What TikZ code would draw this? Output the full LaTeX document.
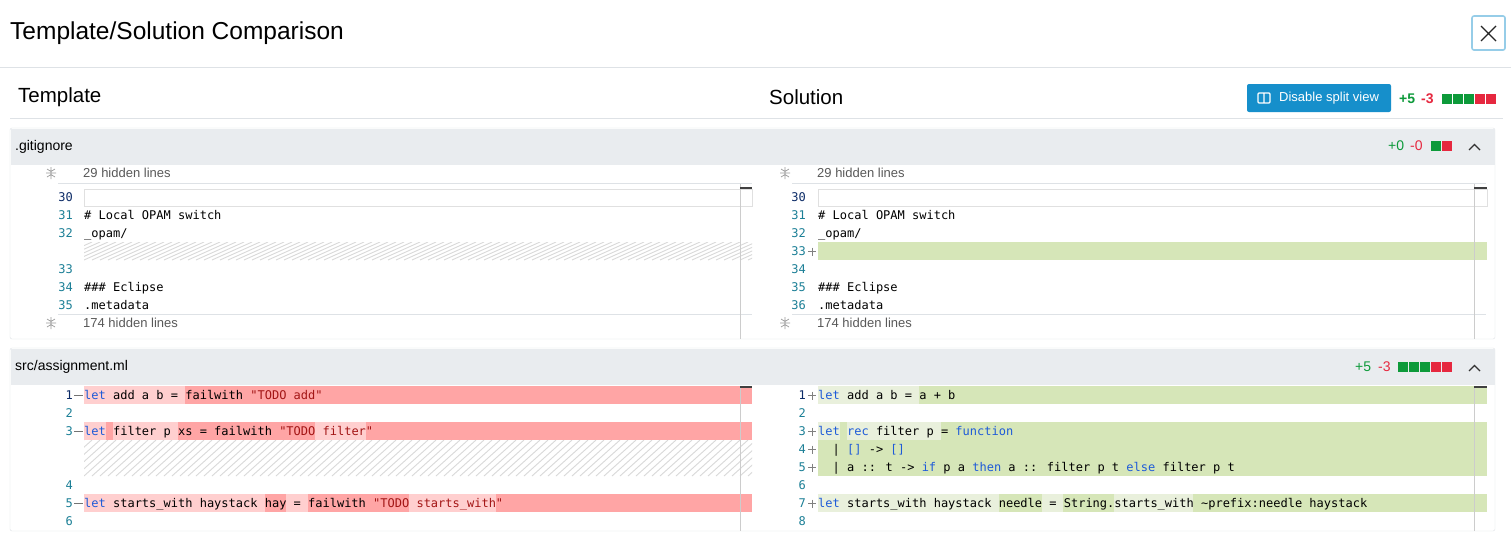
\documentclass[tikz,border=0pt]{standalone}
\usepackage{fontspec}
\setmainfont{Liberation Sans}
\newfontfamily\mono{DejaVu Sans Mono}
\definecolor{redbg}{HTML}{FFA5A5}
\definecolor{redlt}{HTML}{FFCFCF}
\definecolor{grnbg}{HTML}{D6E6B8}
\definecolor{grnlt}{HTML}{E9F0DC}
\definecolor{kw}{HTML}{1E5BD8}
\definecolor{str}{HTML}{A31515}
\definecolor{lnc}{HTML}{1B7F96}
\definecolor{lncur}{HTML}{0B2A66}
\definecolor{hdr}{HTML}{E9ECEF}
\definecolor{brd}{HTML}{DEE2E6}
\definecolor{btn}{HTML}{168FCB}
\definecolor{plus}{HTML}{0D9A3A}
\definecolor{minus}{HTML}{E6283F}
\definecolor{hatch}{HTML}{D9D9D9}
\newcommand\seg[5]{\fill[#1] ({#2+#4*7.22},{#3-9}) rectangle ({#2+#5*7.22},{#3+9});}
\newcommand\code[4]{\node[codetxt] (#1) at (#2,{#3+4.3}) {#4};}
\newcommand\lnum[4]{\node[numtxt] (#1) at (#2,{#3+4.3}) {#4};}
\newcommand\pl[1]{\draw[black!50] (808,{#1+0.5}) -- (816,{#1+0.5}) (812,{#1-3.5}) -- (812,{#1+4.5});}
\newcommand\kw[1]{\textcolor{kw}{#1}}
\newcommand\st[1]{\textcolor{str}{#1}}
\newcommand\hatchbox[4]{\begin{scope}\clip (#1,#2) rectangle (#3,#4);
  \foreach \i in {0,8,...,720}{\draw[hatch,line width=0.9pt] ({#1+\i-40},#4) -- ({#1+\i},#2);}\end{scope}}
\newcommand\unfold[2]{\draw[gray!80,line width=0.7pt] (#1,{#2-6}) -- (#1,{#2+6}) ({#1-4},{#2-4}) -- (#1,{#2-1.5}) -- ({#1+4},{#2-4}) ({#1-4},{#2+4}) -- (#1,{#2+1.5}) -- ({#1+4},{#2+4}) ({#1-5},#2) -- ({#1+5},#2);}
\begin{document}
\begin{tikzpicture}[x=1pt,y=-1pt,
  codetxt/.style={anchor=base west,inner sep=0pt,font=\mono\fontsize{12}{14}\selectfont},
  numtxt/.style={anchor=base east,inner sep=0pt,font=\mono\fontsize{12}{14}\selectfont,text=lnc},
  uitxt/.style={inner sep=0pt,anchor=west}]
\useasboundingbox (0,0) rectangle (1511,550);
\fill[white] (0,0) rectangle (1511,550);
% header
\node[uitxt,font=\fontsize{24.5}{28}\selectfont] (title) at (10,33) {Template/Solution Comparison};
\draw[brd] (0,67.5) -- (1511,67.5);
\draw[rounded corners=2pt,draw=btn!45,line width=1.6pt,fill=white] (1472,16) rectangle (1505,50);
\node (closex) at (1488.5,33) {};
\draw[black!85,line width=1.3pt] (1481,26) -- (1496,41) (1496,26) -- (1481,41);
\node[uitxt,font=\fontsize{20.5}{24}\selectfont] (tpl) at (18,97) {Template};
\node[uitxt,font=\fontsize{20.5}{24}\selectfont] (sol) at (769,97) {Solution};
\fill[btn,rounded corners=2pt] (1247,84) rectangle (1391,112);
\draw[white,line width=1.2pt,rounded corners=1pt] (1258,93) rectangle (1270,103) (1264,93) -- (1264,103);
\node[uitxt,text=white,font=\fontsize{13}{15}\selectfont] (btnt) at (1279,98) {Disable split view};
\node[uitxt,font=\bfseries\fontsize{14}{16}\selectfont,text=plus] (p5) at (1399,99) {+5};
\node[uitxt,font=\bfseries\fontsize{14}{16}\selectfont,text=minus] (m3) at (1421,99) {-3};
\foreach \k/\c in {0/plus,1/plus,2/plus,3/minus,4/minus}{\fill[\c] ({1442+\k*11},94) rectangle ({1452+\k*11},104);}
\draw[brd] (10,118.5) -- (1503,118.5);
% ===== gitignore box =====
\draw[brd,fill=white,rounded corners=2pt] (10,128) rectangle (1495,339);
\fill[hdr] (10.5,128.5) rectangle (1494.5,165);
\node[uitxt,font=\fontsize{14}{16}\selectfont] (f1) at (15,147) {.gitignore};
\node[uitxt,font=\fontsize{14}{16}\selectfont,text=plus] (f1p) at (1388,146) {+0};
\node[uitxt,font=\fontsize{14}{16}\selectfont,text=minus] (f1m) at (1410,146) {-0};
\fill[plus] (1431,141) rectangle (1441,151); \fill[minus] (1442,141) rectangle (1452,151);
\draw[black!80,line width=1.2pt] (1469,150) -- (1474.5,144.5) -- (1480,150);
% hidden rows
\foreach \ox/\ix in {0/51,734/785}{
  \draw[brd] ({\ox+58},183.5) -- ({\ox+752},183.5);
  \draw[brd] ({\ox+58},314.5) -- ({\ox+752},314.5);
  \unfold{\ix}{173} \unfold{\ix}{323}}
\node[uitxt,text=black!65,font=\fontsize{13}{15}\selectfont] (h1) at (83,173) {29 hidden lines};
\node[uitxt,text=black!65,font=\fontsize{13}{15}\selectfont] (h2) at (83,323) {174 hidden lines};
\node[uitxt,text=black!65,font=\fontsize{13}{15}\selectfont] (h3) at (817,173) {29 hidden lines};
\node[uitxt,text=black!65,font=\fontsize{13}{15}\selectfont] (h4) at (817,323) {174 hidden lines};
\draw[black!12,fill=white] (84,189.5) rectangle (752,206);
\draw[black!12,fill=white] (818,189.5) rectangle (1487,206);
\hatchbox{84}{242}{752}{260}
\fill[grnbg] (818,242) rectangle (1487,260);
\draw[black!20] (740,184) -- (740,339) (1474,184) -- (1474,339);
\draw[black!75,line width=1.5pt] (740,188) -- (752,188) (1474,188) -- (1487,188);
% left rows
\node[numtxt,text=lncur] (l30) at (73,201.3) {30};
\lnum{l31}{73}{215}{31} \code{c31}{84}{215}{\# Local OPAM switch}
\lnum{l32}{73}{233}{32} \code{c32}{84}{233}{\_opam/}
\lnum{l33}{73}{269}{33}
\lnum{l34}{73}{287}{34} \code{c34}{84}{287}{\#\#\# Eclipse}
\lnum{l35}{73}{305}{35} \code{c35}{84}{305}{.metadata}
% right rows
\node[numtxt,text=lncur] (r30) at (806,201.3) {30};
\lnum{r31}{806}{215}{31} \code{d31}{818}{215}{\# Local OPAM switch}
\lnum{r32}{806}{233}{32} \code{d32}{818}{233}{\_opam/}
\lnum{r33}{806}{251}{33} \pl{251}
\lnum{r34}{806}{269}{34}
\lnum{r35}{806}{287}{35} \code{d35}{818}{287}{\#\#\# Eclipse}
\lnum{r36}{806}{305}{36} \code{d36}{818}{305}{.metadata}
% ===== assignment box =====
\draw[brd,fill=white,rounded corners=2pt] (10,348) rectangle (1495,531);
\fill[hdr] (10.5,348.5) rectangle (1494.5,385);
\node[uitxt,font=\fontsize{14}{16}\selectfont] (f2) at (15,367) {src/assignment.ml};
\node[uitxt,font=\fontsize{14}{16}\selectfont,text=plus] (f2p) at (1355,367) {+5};
\node[uitxt,font=\fontsize{14}{16}\selectfont,text=minus] (f2m) at (1378,367) {-3};
\foreach \k/\c in {0/plus,1/plus,2/plus,3/minus,4/minus}{\fill[\c] ({1398+\k*11},362) rectangle ({1408+\k*11},372);}
\draw[black!80,line width=1.2pt] (1469,371) -- (1474.5,365.5) -- (1480,371);
% left highlights
\fill[redbg] (84,386) rectangle (752,404);
\seg{redlt}{84}{395}{0}{14}
\fill[redbg] (84,422) rectangle (752,440);
\seg{redlt}{84}{431}{0}{3} \seg{redlt}{84}{431}{4}{13} \seg{redlt}{84}{431}{32}{39}
\hatchbox{84}{440}{752}{476}
\fill[redbg] (84,494) rectangle (752,512);
\seg{redlt}{84}{503}{0}{25} \seg{redlt}{84}{503}{28}{31} \seg{redlt}{84}{503}{45}{57}
% right highlights
\fill[grnbg] (818,386) rectangle (1487,404);
\seg{grnlt}{818}{395}{0}{14}
\fill[grnbg] (818,422) rectangle (1487,476);
\seg{grnlt}{818}{431}{0}{3} \seg{grnlt}{818}{431}{4}{17}
\fill[grnbg] (818,494) rectangle (1487,512);
\seg{grnlt}{818}{503}{0}{25} \seg{grnlt}{818}{503}{31}{34} \seg{grnlt}{818}{503}{41}{52}
\draw[black!20] (740,386) -- (740,531) (1474,386) -- (1474,531);
\draw[black!75,line width=1.5pt] (740,387) -- (752,387) (1474,387) -- (1487,387);
% left code
\node[numtxt,text=lncur] (a1) at (73,399.3) {1};
\draw[black!55] (74,395.5) -- (83,395.5);
\code{b1}{84}{395}{\kw{let} add a b = failwith \st{"TODO add"}}
\lnum{a2}{73}{413}{2}
\lnum{a3}{73}{431}{3} \draw[black!55] (74,431.5) -- (83,431.5);
\code{b3}{84}{431}{\kw{let} filter p xs = failwith \st{"TODO filter"}}
\lnum{a4}{73}{485}{4}
\lnum{a5}{73}{503}{5} \draw[black!55] (74,503.5) -- (83,503.5);
\code{b5}{84}{503}{\kw{let} starts\_with haystack hay = failwith \st{"TODO starts\_with"}}
\lnum{a6}{73}{521}{6}
% right code
\node[numtxt,text=lncur] (e1) at (806,399.3) {1}; \pl{395}
\code{g1}{818}{395}{\kw{let} add a b = a + b}
\lnum{e2}{806}{413}{2}
\lnum{e3}{806}{431}{3} \pl{431} \code{g3}{818}{431}{\kw{let} \kw{rec} filter p = \kw{function}}
\lnum{e4}{806}{449}{4} \pl{449} \code{g4}{818}{449}{~~| \kw{[]} -> \kw{[]}}
\lnum{e5}{806}{467}{5} \pl{467} \code{g5}{818}{467}{~~| a :: t -> \kw{if} p a \kw{then} a :: filter p t \kw{else} filter p t}
\lnum{e6}{806}{485}{6}
\lnum{e7}{806}{503}{7} \pl{503} \code{g7}{818}{503}{\kw{let} starts\_with haystack needle = String.starts\_with \textasciitilde prefix:needle haystack}
\lnum{e8}{806}{521}{8}
\end{tikzpicture}
\end{document}
